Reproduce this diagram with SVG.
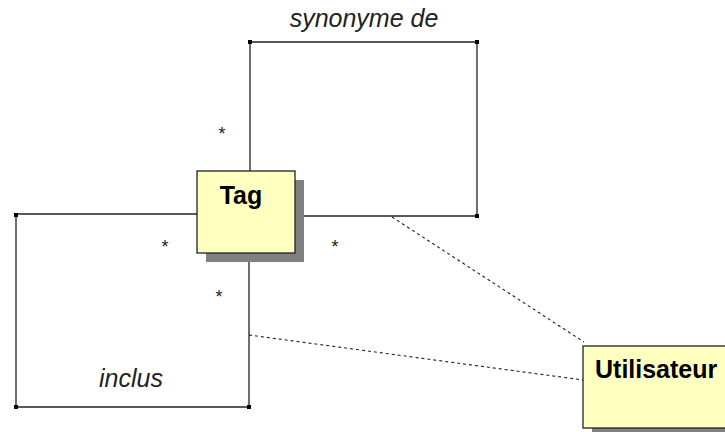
<svg xmlns="http://www.w3.org/2000/svg" width="725" height="432" viewBox="0 0 725 432">
<style>
.ln{fill:none;stroke:#222;stroke-width:1.3}
.dash{fill:none;stroke:#222;stroke-width:1.1;stroke-dasharray:3,3}
.pt{fill:#000}
.box{fill:#ffffc0;stroke:#222;stroke-width:1.3}
.sh{fill:#808080}
.name{font-family:"Liberation Sans",Arial,sans-serif;font-weight:bold;font-size:25px;fill:#000}
.lbl{font-family:"Liberation Sans",Arial,sans-serif;font-style:italic;font-size:25px;fill:#222}
.m{font-family:"Liberation Sans",Arial,sans-serif;font-size:18px;fill:#222}
</style>
<rect width="725" height="432" fill="#fff"/>
<g id="connectors">
<polyline class="ln" points="250,171 250,42 477,42 477,216 295,216"/>
<polyline class="ln" points="197,214 16,214 16,407 249,407 249,253"/>
<line class="dash" x1="392" y1="217" x2="584" y2="342"/>
<line class="dash" x1="249" y1="335" x2="583" y2="380"/>
<rect class="pt" x="248" y="40" width="4" height="4"/>
<rect class="pt" x="475" y="40" width="4" height="4"/>
<rect class="pt" x="475" y="214" width="4" height="4"/>
<rect class="pt" x="14" y="213" width="4" height="4"/>
<rect class="pt" x="14" y="405" width="4" height="4"/>
<rect class="pt" x="247" y="405" width="4" height="4"/>
<text class="lbl" x="364" y="27" text-anchor="middle">synonyme de</text>
<text class="lbl" x="131" y="387" text-anchor="middle">inclus</text>
<text class="m" x="222" y="140" text-anchor="middle">*</text>
<text class="m" x="165" y="253" text-anchor="middle">*</text>
<text class="m" x="335" y="253" text-anchor="middle">*</text>
<text class="m" x="219" y="303" text-anchor="middle">*</text>
</g>
<g id="Tag">
<rect class="sh" x="206" y="180" width="98" height="82"/>
<rect class="box" x="197" y="171" width="98" height="82"/>
<text class="name" x="241" y="204" text-anchor="middle">Tag</text>
</g>
<g id="Utilisateur">
<rect class="sh" x="592" y="355" width="140" height="82"/>
<rect class="box" x="583" y="346" width="150" height="82"/>
<text class="name" x="595" y="378">Utilisateur</text>
</g>
</svg>
